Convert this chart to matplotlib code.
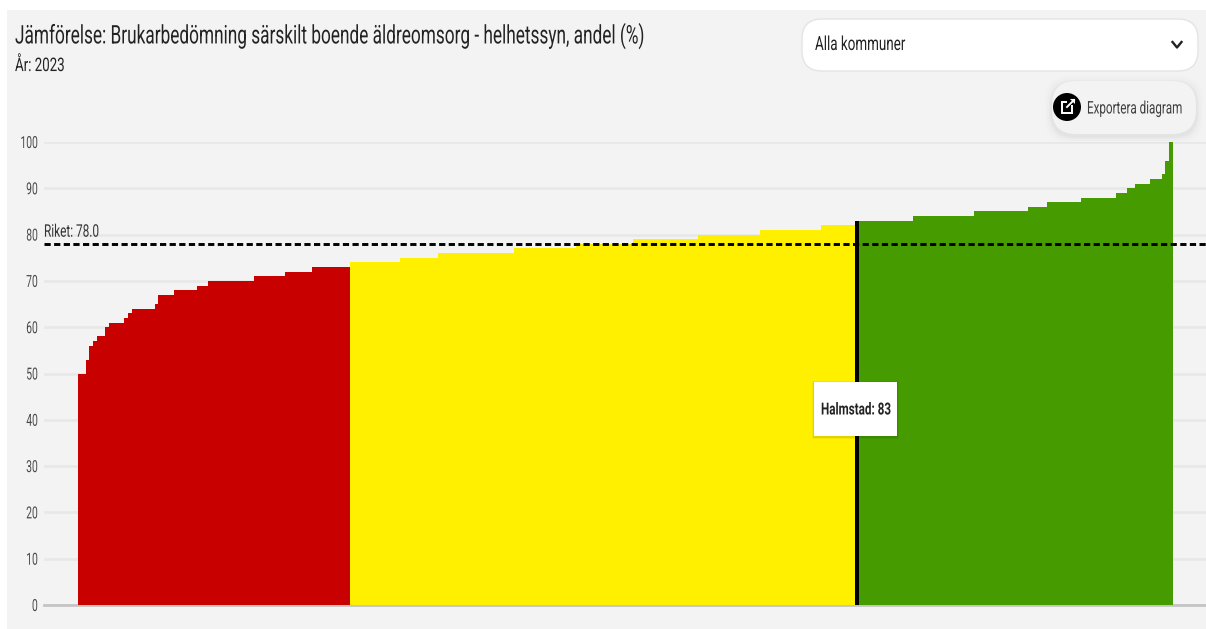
import numpy as np
import matplotlib
matplotlib.use("Agg")
import matplotlib.pyplot as plt
from matplotlib.patches import FancyBboxPatch, Circle, Rectangle, Polygon
from matplotlib.patheffects import AbstractPathEffect
from matplotlib.text import Text
from matplotlib.transforms import Affine2D, Bbox

plt.rcParams["font.family"] = ["Roboto", "DejaVu Sans"]

# ======================
# Data
# ======================
red_levels = [50, 53, 56, 57, 58, 60, 61, 62, 63, 64, 65, 67, 68, 69, 70, 71, 72, 73]
red_counts = [2, 1, 1, 1, 2, 1, 4, 1, 1, 6, 1, 4, 6, 3, 12, 8, 7, 10]
yellow_levels = [74, 75, 76, 77, 78, 79, 80, 81, 82]
yellow_counts = [13, 10, 20, 16, 15, 17, 16, 16, 9]
green_levels = [83, 84, 85, 86, 87, 88, 89, 90, 91, 92, 93, 96, 100]
green_counts = [15, 16, 14, 5, 9, 9, 3, 2, 4, 3, 1, 1, 1]

riket = 78.0
highlight_name = "Halmstad"
highlight_value = 83
y_ticks = [0, 10, 20, 30, 40, 50, 60, 70, 80, 90, 100]

TITLE = "Jämförelse: Brukarbedömning särskilt boende äldreomsorg - helhetssyn, andel (%)"
SUBTITLE = "År: 2023"

# ======================
# Layout, pixels of the 1206x629 picture
# ======================
W, H = 1206, 629
AX_LEFT, AX_RIGHT = 44, 1206
Y0_PX, Y100_PX = 605, 142
BARS_LEFT, BARS_RIGHT = 78, 1173
BG = "#f3f3f3"


# the screenshot is squeezed sideways, so the text has to be too
class Squeeze(AbstractPathEffect):
    def __init__(self, sx, anchor_x):
        super().__init__()
        self.sx = sx
        self.anchor_x = anchor_x

    def draw_path(self, renderer, gc, tpath, affine, rgbFace=None):
        squeezed = affine + Affine2D().translate(-self.anchor_x, 0).scale(self.sx, 1).translate(self.anchor_x, 0)
        renderer.draw_path(gc, tpath, squeezed, rgbFace)


class SqueezedText(Text):
    def __init__(self, x, y, s, sx, **kw):
        super().__init__(x, y, s, path_effects=[Squeeze(sx, x)], **kw)
        self.sx = sx

    def get_window_extent(self, renderer=None, dpi=None):
        bb = super().get_window_extent(renderer, dpi)
        a = self.get_position()[0]
        return Bbox.from_extents(a + (bb.x0 - a) * self.sx, bb.y0, a + (bb.x1 - a) * self.sx, bb.y1)


red = np.repeat(red_levels, red_counts)
yellow = np.repeat(yellow_levels, yellow_counts)
green = np.repeat(green_levels, green_counts)
values = np.concatenate([red, yellow, green])
colors = ["#c80000"] * len(red) + ["#fff000"] * len(yellow) + ["#459b00"] * len(green)
colors[len(red) + len(yellow)] = "#000000"  # Halmstad

fig = plt.figure(figsize=(W / 100, H / 100), dpi=100, facecolor="white")
fig.patches.append(Rectangle((7 / W, 0), 1 - 7 / W, 1 - 10 / H, transform=fig.transFigure, facecolor=BG, edgecolor="none", zorder=-1))

ax = fig.add_axes([AX_LEFT / W, 1 - Y0_PX / H, (AX_RIGHT - AX_LEFT) / W, (Y0_PX - Y100_PX) / H])
ax.patch.set_alpha(0)
px_per_bar = (BARS_RIGHT - BARS_LEFT) / len(values)
ax.set_xlim(-0.5 - (BARS_LEFT - AX_LEFT) / px_per_bar, len(values) - 0.5 + (AX_RIGHT - BARS_RIGHT) / px_per_bar)
ax.set_ylim(0, 100)
ax.bar(np.arange(len(values)), values, width=1.0, color=colors, linewidth=0, antialiased=False, zorder=2)

ax.set_yticks(y_ticks)
ax.set_xticks([])
ax.tick_params(axis="y", length=0, pad=5, labelsize=12, labelcolor="#4a4a4a")
for lab in ax.get_yticklabels():
    lab.set_path_effects([Squeeze(0.62, 39)])
ax.grid(axis="y", color="#e8e8e8", linewidth=2, zorder=1)
ax.set_axisbelow(True)
for name in ["top", "right", "left"]:
    ax.spines[name].set_visible(False)
ax.spines["bottom"].set_color("#c4c4c4")
ax.spines["bottom"].set_linewidth(2)
ax.spines["bottom"].set_zorder(1.5)

# dash and gap in line widths: about 6 px on, 3.5 px off
ax.axhline(riket, color="black", linewidth=2.1, linestyle=(0, (2.13, 1.17)), zorder=4)
ax.annotate(f"Riket: {riket:.1f}", (0, riket), xycoords=("axes fraction", "data"), xytext=(0, 3),
            textcoords="offset points", fontsize=12.5, color="#333333", va="bottom", ha="left",
            path_effects=[Squeeze(0.68, AX_LEFT)])

# ======================
# Page furniture, drawn in picture pixels
# ======================
ui = fig.add_axes([0, 0, 1, 1], zorder=5)
ui.set_xlim(0, W)
ui.set_ylim(H, 0)
ui.axis("off")


def rounded(x0, y0, x1, y1, r, color, shadow=False, **kw):
    if shadow:
        for grow, alpha in [(7, 0.008), (5, 0.012), (3, 0.018), (1.5, 0.025)]:
            ui.add_patch(FancyBboxPatch((x0 + r - grow, y0 + r + 2 - grow), x1 - x0 - 2 * r + 2 * grow, y1 - y0 - 2 * r + 2 * grow,
                                        boxstyle=f"round,pad={r}", facecolor="black", alpha=alpha, edgecolor="none"))
    ui.add_patch(FancyBboxPatch((x0 + r, y0 + r), x1 - x0 - 2 * r, y1 - y0 - 2 * r, boxstyle=f"round,pad={r}", facecolor=color, **kw))


def label(x, y, s, size, sx=0.69, **kw):
    kw.setdefault("color", "#222222")
    ui.add_artist(SqueezedText(x, y, s, sx, fontsize=size, va="center", ha="left", **kw))


label(15, 36, TITLE, 18.5, sx=0.671)
label(15, 66, SUBTITLE, 13.5, sx=0.71)

# dropdown
rounded(802, 19, 1198, 71, 20, "white", edgecolor="#e4e4e4", linewidth=1)
label(815, 45, "Alla kommuner", 14)
ui.plot([1172.5, 1177, 1181.5], [42, 47.5, 42], color="#222222", linewidth=1.7)

# export button
rounded(1052, 81, 1196, 134, 24, BG, shadow=True, edgecolor="none")
ui.add_patch(Circle((1067, 107), 14, facecolor="black", edgecolor="none"))
ui.add_patch(Rectangle((1062, 102), 10, 11, facecolor="none", edgecolor="white", linewidth=1.4))
ui.add_patch(Rectangle((1067, 99), 7, 6, facecolor="black", edgecolor="none"))
ui.plot([1067, 1074], [107, 100], color="white", linewidth=1.4)
ui.add_patch(Polygon([[1070, 99], [1075, 99], [1075, 104]], closed=True, facecolor="white", edgecolor="none"))
label(1087, 109, "Exportera diagram", 12.5, sx=0.67, color="#404040")

# tooltip
for grow, alpha in [(2, 0.04), (1, 0.08)]:
    ui.add_patch(Rectangle((814 - grow, 382 - grow + 1), 83 + 2 * grow, 54 + 2 * grow, facecolor="black", alpha=alpha, edgecolor="none"))
ui.add_patch(Rectangle((814, 382), 83, 54, facecolor="white", edgecolor="none"))
label(821, 410, f"{highlight_name}: {highlight_value}", 12, sx=0.7, fontweight="bold")

fig.savefig("out.png", dpi=100, facecolor="white")
